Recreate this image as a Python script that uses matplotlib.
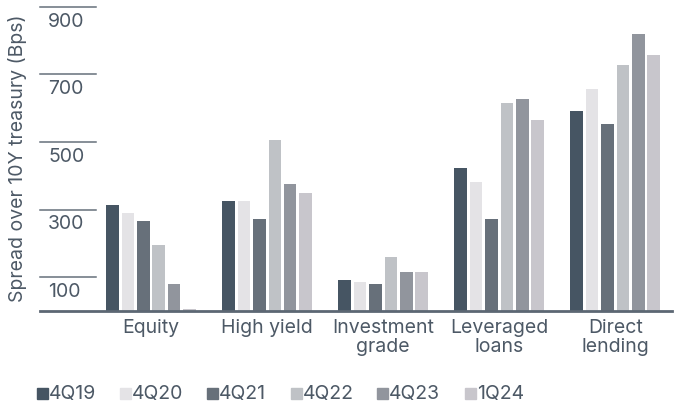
import numpy as np
import matplotlib
matplotlib.use("Agg")
import matplotlib.pyplot as plt
from matplotlib.patches import Rectangle

plt.rcParams['font.family'] = ['Inter', 'DejaVu Sans']

categories = ["Equity", "High yield", "Investment\ngrade", "Leveraged\nloans", "Direct\nlending"]
periods = ["4Q19", "4Q20", "4Q21", "4Q22", "4Q23", "1Q24"]
spreads = {
    "4Q19": [314, 326, 92, 422, 591],
    "4Q20": [290, 326, 86, 381, 656],
    "4Q21": [266, 272, 80, 272, 554],
    "4Q22": [194, 506, 159, 615, 728],
    "4Q23": [80, 376, 115, 628, 820],
    "1Q24": [6, 348, 114, 564, 757],
}
yticks = [100, 300, 500, 700, 900]

colors = ["#465563", "#e4e3e6", "#67707a", "#bfc2c6", "#91959d", "#c8c6cc"]
text_col = "#4d5966"
line_col = "#66707b"
fs = 14

W, H = 683, 409
fig = plt.figure(figsize=(W / 100, H / 100), dpi=100)
ax = fig.add_axes([40 / W, (H - 311) / H, 632 / W, 311 / H])

x = np.arange(len(categories))
pitch = 0.133
width = 0.108
for i, p in enumerate(periods):
    ax.bar(x + (i - 2.5) * pitch, spreads[p], width=width, color=colors[i], linewidth=0)

ax.set_xlim(-0.957, 4.49)
ax.set_ylim(0, 920)

# short rules at the left instead of full gridlines
ytr = ax.get_yaxis_transform()
for v in yticks:
    ax.plot([0, 56 / 632], [v, v], color=line_col, lw=1.1, transform=ytr, clip_on=False)
    ax.text(8 / 632, v - 17, str(v), transform=ytr, ha="left", va="top",
            fontsize=fs, color=text_col)
ax.plot([0, 1], [0, 0], color="#5c6773", lw=2, transform=ytr, clip_on=False)

for s in ax.spines.values():
    s.set_visible(False)
ax.set_yticks([])
ax.set_xticks(x)
ax.set_xticklabels(categories, fontsize=fs, color=text_col, linespacing=1.05)
ax.tick_params(axis="x", length=0, pad=6)

fig.text(18 / W, (H - 158) / H, "Spread over 10Y treasury (Bps)", rotation=90,
         ha="center", va="center", fontsize=fs, color=text_col)

# legend row along the bottom
leg_x = [37, 120, 207, 291, 377, 465]
for i, p in enumerate(periods):
    fig.patches.append(Rectangle((leg_x[i] / W, (H - 399) / H), 11 / W, 11 / H,
                                 transform=fig.transFigure, color=colors[i]))
    fig.text((leg_x[i] + 12) / W, (H - 393.5) / H, p, ha="left", va="center",
             fontsize=fs, color=text_col)

fig.savefig("out.png", dpi=100)
